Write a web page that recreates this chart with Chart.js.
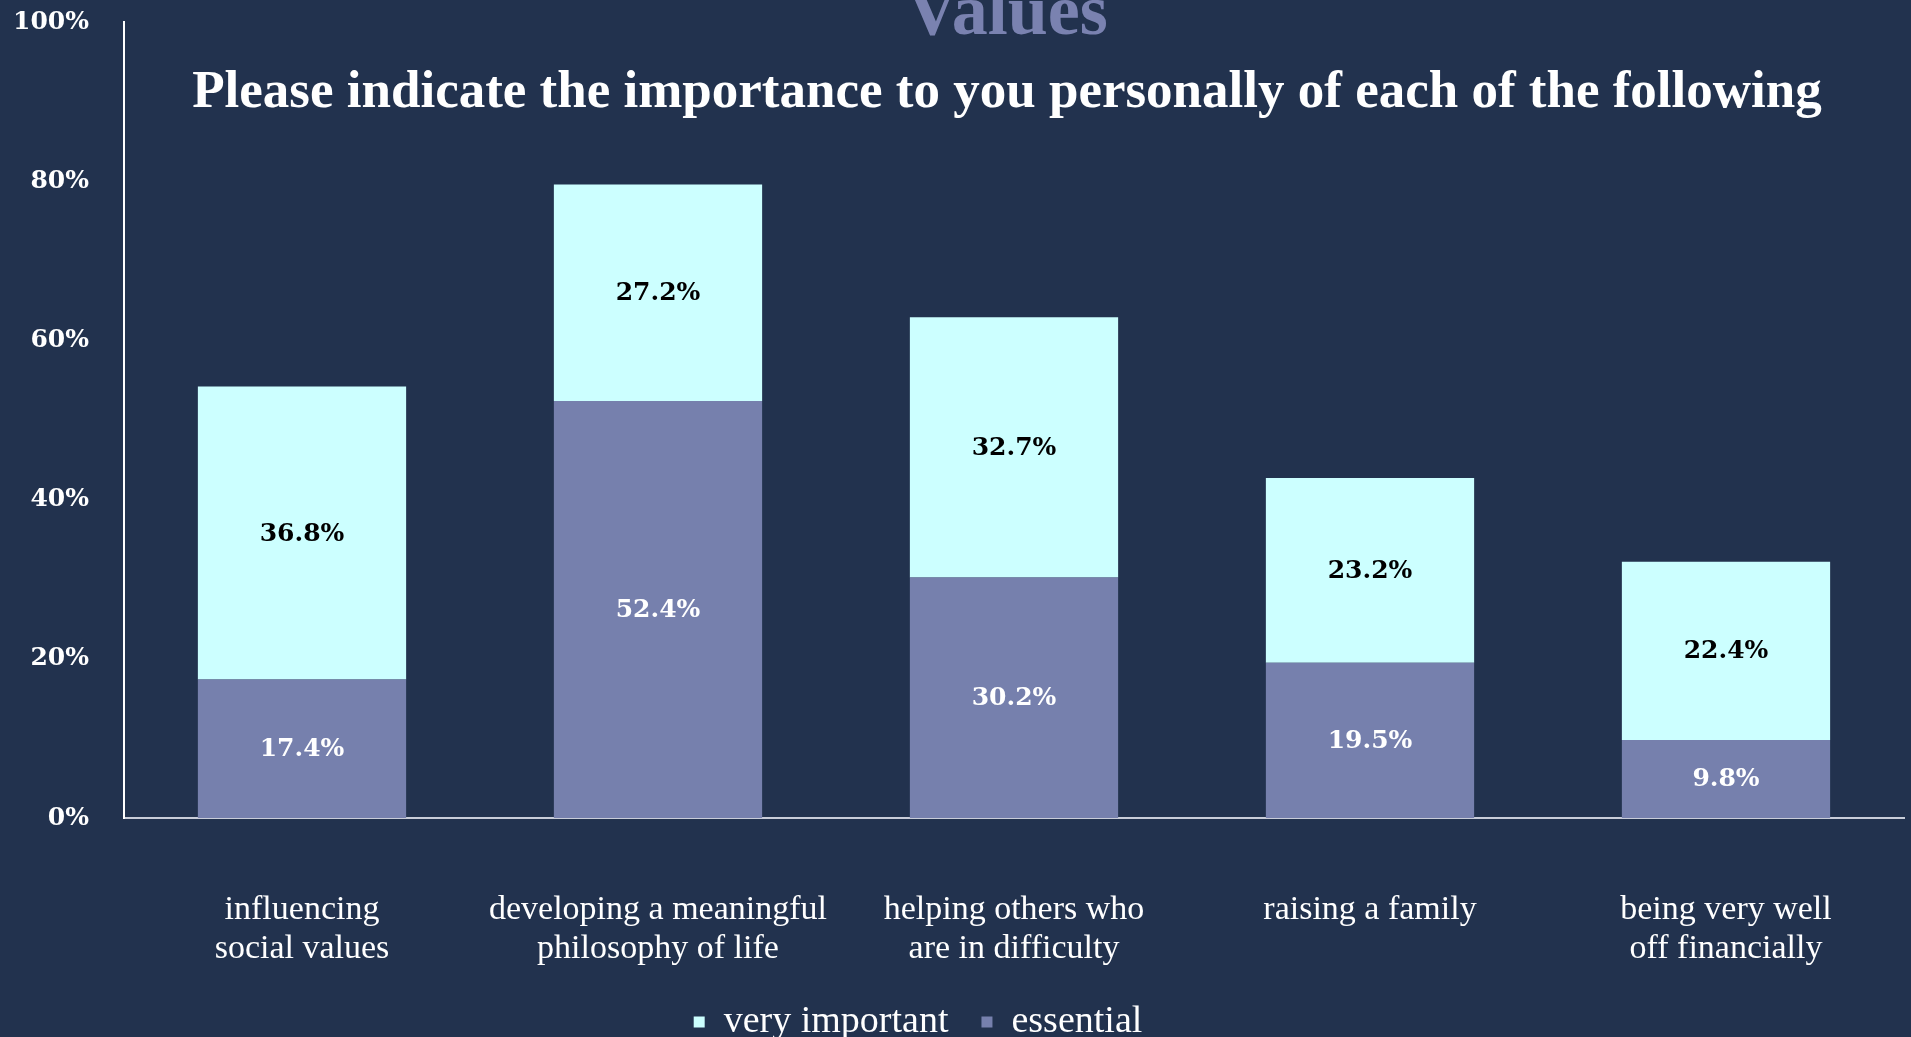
<!DOCTYPE html>
<html>
<head>
<meta charset="utf-8">
<script src="https://cdn.jsdelivr.net/npm/chart.js@4.4.1/dist/chart.umd.min.js"></script>
<style>
    html, body { margin: 0; padding: 0; background: #22324e; overflow: hidden; }
    #wrap { width: 1911px; height: 1037px; position: relative; }
</style>
</head>
<body>
<div id="wrap"><canvas id="valuesChart"></canvas></div>
<script>
const categories = [
    ['influencing', 'social values'],
    ['developing a meaningful', 'philosophy of life'],
    ['helping others who', 'are in difficulty'],
    ['raising a family'],
    ['being very well', 'off financially']
];
const essential = [17.4, 52.4, 30.2, 19.5, 9.8];
const veryImportant = [36.8, 27.2, 32.7, 23.2, 22.4];
const yTickStep = 20;
const yMax = 100;
const titleText = 'Values';
const subtitleText = 'Please indicate the importance to you personally of each of the following';

const serif = '"Liberation Serif", "DejaVu Serif", serif';

// value labels drawn in the middle of each stacked segment
const segmentLabels = {
    id: 'segmentLabels',
    afterDatasetsDraw(chart) {
        const ctx = chart.ctx;
        ctx.save();
        ctx.font = 'bold 25px "DejaVu Serif", serif';
        ctx.textAlign = 'center';
        ctx.textBaseline = 'middle';
        chart.data.datasets.forEach(function(ds, i) {
            const meta = chart.getDatasetMeta(i);
            meta.data.forEach(function(bar, j) {
                ctx.fillStyle = ds.labelColor;
                ctx.fillText(ds.data[j].toFixed(1) + '%', bar.x, (bar.y + bar.base) / 2 + 1);
            });
        });
        ctx.restore();
    }
};

// the two title lines sit inside the plot area, so draw them by hand
const titles = {
    id: 'titles',
    afterDraw(chart) {
        const ctx = chart.ctx;
        const cx = (chart.chartArea.left + chart.chartArea.right) / 2 - 7;
        ctx.save();
        ctx.textAlign = 'center';
        ctx.textBaseline = 'alphabetic';
        ctx.fillStyle = '#7a82b0';
        ctx.font = 'bold 72px ' + serif;
        ctx.fillText(titleText, cx, 34);
        ctx.fillStyle = '#ffffff';
        ctx.font = 'bold 53px ' + serif;
        ctx.fillText(subtitleText, cx, 107);
        ctx.restore();
    }
};

// legend in the original sits a little left of the canvas centre
const legendShift = {
    id: 'legendShift',
    afterLayout(chart) {
        chart.legend.left -= 34;
        chart.legend.right -= 34;
    }
};

new Chart(document.getElementById('valuesChart'), {
    type: 'bar',
    data: {
        labels: categories,
        datasets: [
            {
                label: 'essential',
                data: essential,
                backgroundColor: '#7680ad',
                labelColor: '#ffffff',
                borderWidth: 0
            },
            {
                label: 'very important',
                data: veryImportant,
                backgroundColor: '#ccffff',
                labelColor: '#000000',
                borderWidth: 0
            }
        ]
    },
    options: {
        responsive: true,
        maintainAspectRatio: false,
        animation: false,
        categoryPercentage: 0.585,
        barPercentage: 1,
        layout: {
            padding: { top: 22, right: 7, left: 0, bottom: -14 }
        },
        scales: {
            x: {
                stacked: true,
                grid: { display: false, drawTicks: false },
                border: { color: '#c9cdd9', width: 2 },
                ticks: {
                    color: '#ffffff',
                    padding: 73,
                    font: { family: serif, size: 34, lineHeight: 1.147 }
                },
                afterFit(scale) { scale.height = 152; }
            },
            y: {
                stacked: true,
                min: 0,
                max: yMax,
                grid: { display: false, drawTicks: false },
                border: { color: '#ffffff', width: 2 },
                ticks: {
                    stepSize: yTickStep,
                    color: '#ffffff',
                    padding: 35,
                    font: { family: '"DejaVu Serif", serif', size: 25, weight: 'bold' },
                    callback: function(v) { return v + '%'; }
                },
                afterFit(scale) {
                    scale.width = 124;
                    scale.paddingTop = 0;
                    scale.paddingBottom = 0;
                }
            }
        },
        plugins: {
            legend: {
                display: true,
                position: 'bottom',
                reverse: true,
                labels: {
                    color: '#ffffff',
                    boxWidth: 11,
                    boxHeight: 11,
                    padding: 33,
                    font: { family: serif, size: 38, lineHeight: 1 }
                }
            },
            tooltip: { enabled: false }
        }
    },
    plugins: [segmentLabels, titles, legendShift]
});
</script>
</body>
</html>
